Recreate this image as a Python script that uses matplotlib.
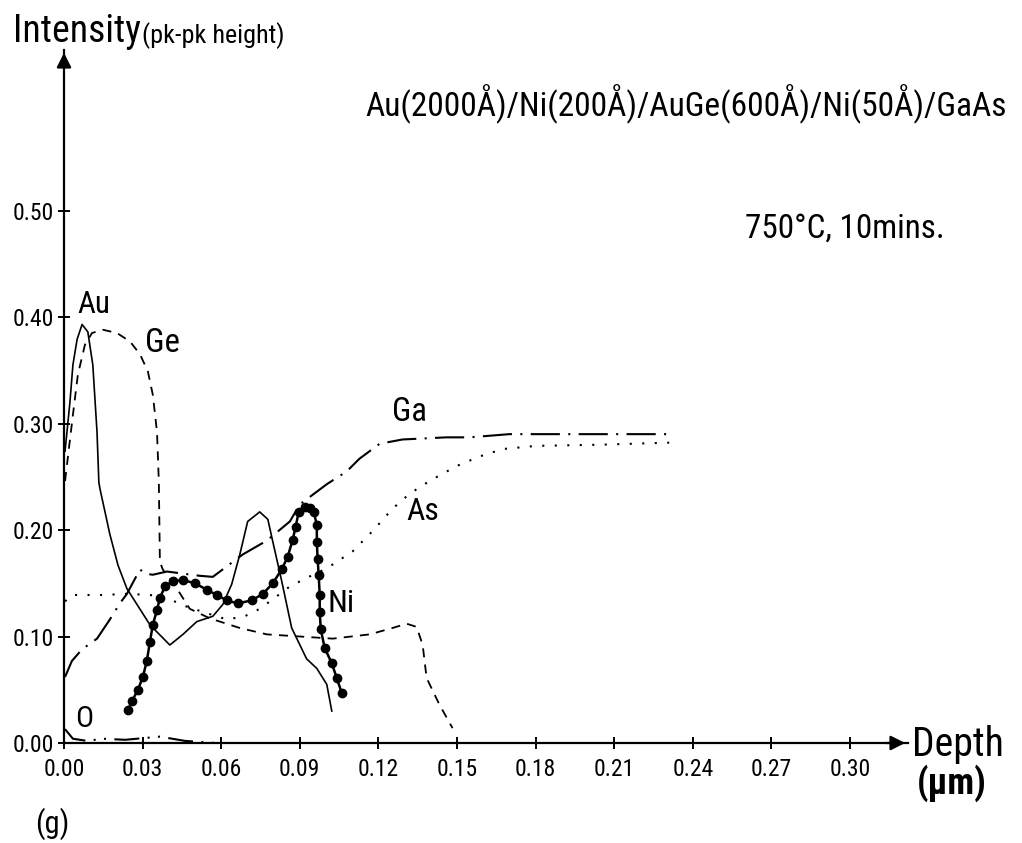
import matplotlib
matplotlib.use("Agg")
import matplotlib.pyplot as plt

FONT = ["Roboto Condensed", "Liberation Sans", "DejaVu Sans"]
plt.rcParams["font.family"] = FONT

# Depth (um) and intensity (pk-pk height) of each element
au_depth = [0.0004, 0.0023, 0.0034, 0.0050, 0.0069, 0.0091, 0.0110, 0.0126, 0.0133,
            0.0137, 0.0175, 0.0206, 0.0240, 0.0328, 0.0404, 0.0454, 0.0507, 0.0568,
            0.0606, 0.0640, 0.0671, 0.0701, 0.0747, 0.0778, 0.0797, 0.0831, 0.0869,
            0.0926, 0.0965, 0.1003, 0.1022]
au_int = [0.274, 0.321, 0.355, 0.379, 0.393, 0.386, 0.355, 0.292, 0.245,
          0.239, 0.196, 0.167, 0.145, 0.111, 0.092, 0.102, 0.114, 0.119,
          0.130, 0.149, 0.177, 0.208, 0.217, 0.210, 0.189, 0.152, 0.108,
          0.079, 0.070, 0.055, 0.030]

ge_depth = [0.0004, 0.0034, 0.0053, 0.0080, 0.0107, 0.0149, 0.0202, 0.0252, 0.0290,
            0.0320, 0.0339, 0.0355, 0.0362, 0.0366, 0.0377, 0.0431, 0.0480, 0.0557,
            0.0671, 0.0774, 0.0900, 0.1026, 0.1167, 0.1254, 0.1308, 0.1346, 0.1369,
            0.1384, 0.1433, 0.1483]
ge_int = [0.246, 0.308, 0.346, 0.374, 0.385, 0.388, 0.385, 0.377, 0.365,
          0.349, 0.327, 0.292, 0.245, 0.170, 0.163, 0.145, 0.126, 0.117,
          0.108, 0.102, 0.100, 0.098, 0.102, 0.108, 0.112, 0.109, 0.092,
          0.061, 0.036, 0.014]

ga_depth = [0.0004, 0.0030, 0.0069, 0.0126, 0.0175, 0.0213, 0.0240, 0.0290, 0.0309,
            0.0339, 0.0393, 0.0518, 0.0568, 0.0682, 0.0774, 0.0862, 0.0900, 0.1003,
            0.1079, 0.1128, 0.1205, 0.1292, 0.1460, 0.1548, 0.1700, 0.1902, 0.2131,
            0.2310]
ga_int = [0.062, 0.077, 0.088, 0.098, 0.116, 0.131, 0.140, 0.163, 0.159,
          0.158, 0.161, 0.157, 0.156, 0.177, 0.190, 0.208, 0.224, 0.243,
          0.255, 0.267, 0.281, 0.285, 0.287, 0.287, 0.290, 0.290, 0.290,
          0.290]

as_depth = [0.0004, 0.0030, 0.0149, 0.0240, 0.0328, 0.0393, 0.0469, 0.0557, 0.0621,
            0.0690, 0.0747, 0.0797, 0.0862, 0.0926, 0.1003, 0.1102, 0.1178, 0.1254,
            0.1319, 0.1395, 0.1498, 0.1586, 0.1674, 0.1803, 0.2032, 0.2310]
as_int = [0.133, 0.139, 0.139, 0.140, 0.139, 0.136, 0.128, 0.121, 0.116,
          0.119, 0.126, 0.135, 0.147, 0.155, 0.164, 0.180, 0.199, 0.220,
          0.234, 0.246, 0.260, 0.269, 0.276, 0.279, 0.280, 0.282]

ni_depth = [0.0244, 0.0259, 0.0282, 0.0301, 0.0316, 0.0328, 0.0339, 0.0355, 0.0366,
            0.0385, 0.0416, 0.0454, 0.0499, 0.0545, 0.0583, 0.0621, 0.0663, 0.0717,
            0.0759, 0.0797, 0.0831, 0.0854, 0.0873, 0.0884, 0.0896, 0.0919, 0.0938,
            0.0953, 0.0965, 0.0965, 0.0968, 0.0972, 0.0976, 0.0976, 0.0980, 0.0995,
            0.1022, 0.1041, 0.1060]
ni_int = [0.031, 0.039, 0.050, 0.062, 0.077, 0.095, 0.111, 0.125, 0.136,
          0.147, 0.152, 0.153, 0.150, 0.144, 0.139, 0.134, 0.131, 0.134,
          0.140, 0.150, 0.163, 0.175, 0.191, 0.203, 0.217, 0.222, 0.221,
          0.217, 0.205, 0.189, 0.173, 0.158, 0.139, 0.123, 0.107, 0.089,
          0.075, 0.061, 0.047]

o_depth = [0.0004, 0.0034, 0.0088, 0.0149, 0.0233, 0.0366, 0.0461, 0.0518, 0.0580]
o_int = [0.013, 0.004, 0.002, 0.004, 0.003, 0.006, 0.002, 0.001, 0.000]

xtick_vals = [0.00, 0.03, 0.06, 0.09, 0.12, 0.15, 0.18, 0.21, 0.24, 0.27, 0.30]
xtick_labels = ["0.00", "0.03", "0.06", "0.09", "0.12", "0.15", "0.18", "0.21",
                "0.24", "0.27", "0.30"]
ytick_vals = [0.00, 0.10, 0.20, 0.30, 0.40, 0.50]
ytick_labels = ["0.00", "0.10", "0.20", "0.30", "0.40", "0.50"]

W, H = 1022, 843
fig = plt.figure(figsize=(W / 100, H / 100), dpi=100)
fig.patch.set_facecolor("white")

# axes box: origin at pixel (64, 743), arrow tips at x=908 and y=50
ax = fig.add_axes([64 / W, 1 - 743 / H, 844 / W, 693 / H])
ax.set_xlim(0, 844 / 2620)
ax.set_ylim(0, 693 / 1065)
ax.set_facecolor("none")

for side in ("top", "right"):
    ax.spines[side].set_visible(False)
for side in ("left", "bottom"):
    ax.spines[side].set_linewidth(1.6)

ax.set_xticks(xtick_vals)
ax.set_xticklabels(xtick_labels)
ax.set_yticks(ytick_vals)
ax.set_yticklabels(ytick_labels)
ax.tick_params(direction="inout", length=9, width=1.4, labelsize=17, colors="black")
ax.tick_params(axis="x", pad=6)
ax.tick_params(axis="y", pad=3)

# axis arrowheads
ax.annotate("", xy=(1, 0), xytext=(0.97, 0), xycoords="axes fraction",
            arrowprops=dict(arrowstyle="-|>", color="black", lw=1.6, mutation_scale=22))
ax.annotate("", xy=(0, 1), xytext=(0, 0.97), xycoords="axes fraction",
            arrowprops=dict(arrowstyle="-|>", color="black", lw=1.6, mutation_scale=22))

k = "black"
ax.plot(au_depth, au_int, color=k, lw=1.2, ls="-")
ax.plot(ge_depth, ge_int, color=k, lw=1.3, ls=(0, (5, 4)))
ax.plot(ga_depth, ga_int, color=k, lw=1.5, ls=(0, (14, 4, 1, 4)))
ax.plot(as_depth, as_int, color=k, lw=1.5, ls=(0, (1, 5)))
ax.plot(o_depth, o_int, color=k, lw=1.5, ls=(0, (12, 4, 1, 4, 1, 4)))
ax.plot(ni_depth, ni_int, color=k, lw=1.8, ls="-", marker="o", ms=6,
        markerfacecolor=k, markeredgecolor=k)

# element labels (text, width in pixels)
lab = dict(fontsize=22, color=k, va="center")
labels = [
    (ax.text(0.0050, 0.412, "Au", ha="left", **lab), 33),
    (ax.text(0.0310, 0.376, "Ge", ha="left", **lab), 35),
    (ax.text(0.1320, 0.311, "Ga", ha="center", **lab), 35),
    (ax.text(0.1370, 0.217, "As", ha="center", **lab), 33),
    (ax.text(0.1057, 0.131, "Ni", ha="center", **lab), 27),
    (ax.text(0.0076, 0.023, "O", ha="center", **lab), 18),
]


def px(x, y):
    return x / W, 1 - y / H


notes = [
    (fig.text(*px(13, 42), "Intensity", fontsize=27, ha="left", va="baseline"), 127),
    (fig.text(*px(142, 43), "(pk-pk height)", fontsize=18, ha="left", va="baseline"), 143),
    (fig.text(*px(365, 116), "Au(2000Å)/Ni(200Å)/AuGe(600Å)/Ni(50Å)/GaAs",
              fontsize=26, ha="left", va="baseline"), 640),
    (fig.text(*px(745, 238), "750°C, 10mins.", fontsize=26, ha="left", va="baseline"), 200),
    (fig.text(*px(912, 745), "Depth", fontsize=23, ha="left", va="center"), 92),
    (fig.text(*px(917, 783), "(µm)", fontsize=23, ha="left", va="center",
              fontweight="bold"), 70),
]

# scale each text so its rendered width matches the intended width
fig.canvas.draw()
renderer = fig.canvas.get_renderer()
for t, width in labels + notes:
    w = t.get_window_extent(renderer).width
    t.set_fontsize(t.get_fontsize() * width / w)

fig.text(*px(35, 824), "(g)", fontsize=22, ha="left", va="center")

fig.savefig("out.png", dpi=100, facecolor="white")
